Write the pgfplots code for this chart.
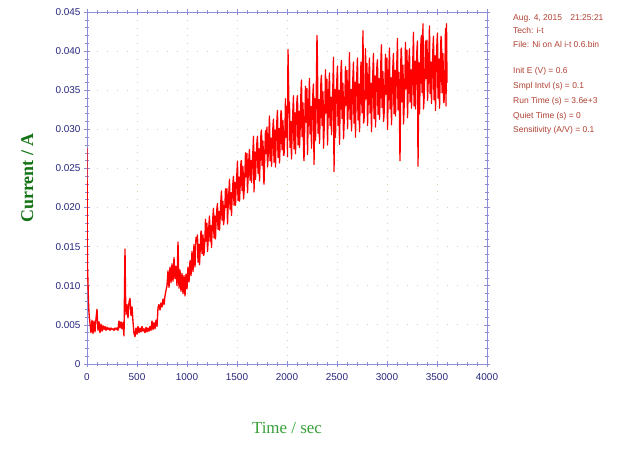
\documentclass[border=0pt]{standalone}
\usepackage{fontspec}
\setmainfont{Liberation Sans}
\newfontfamily\serifface{Liberation Serif}
\usepackage{pgfplots}
\usepackage{pgfplotstable}
\pgfplotsset{compat=1.18}

\definecolor{axisblue}{RGB}{140,140,215}
\definecolor{ticknavy}{RGB}{40,40,125}
\definecolor{gridkhaki}{RGB}{210,210,175}
\definecolor{ylabgreen}{RGB}{20,115,20}
\definecolor{xlabgreen}{RGB}{55,160,55}
\definecolor{infobrown}{RGB}{175,65,50}
\definecolor{tracered}{RGB}{255,0,0}

% i-t record: time (s), current (A)
\pgfplotstableread[row sep=\\]{
t i\\
0 27.5e-3\\ 2 16.5e-3\\ 5 12.5e-3\\ 10 10.3e-3\\ 15 8.0e-3\\ 20 6.5e-3\\ 30 5.2e-3\\ 40 4.0e-3\\
50 5.6e-3\\ 60 3.9e-3\\ 70 5.5e-3\\ 80 4.1e-3\\ 90 5.8e-3\\ 100 7.0e-3\\ 110 4.3e-3\\ 120 5.4e-3\\
130 4.0e-3\\ 140 5.1e-3\\ 150 4.2e-3\\ 160 4.9e-3\\ 170 4.4e-3\\ 180 4.8e-3\\ 190 4.3e-3\\ 200 4.7e-3\\
210 4.4e-3\\ 220 4.6e-3\\ 230 4.3e-3\\ 240 4.6e-3\\ 250 4.4e-3\\ 260 4.5e-3\\ 270 4.3e-3\\ 280 4.6e-3\\
290 4.4e-3\\ 300 4.6e-3\\ 310 4.3e-3\\ 320 5.5e-3\\ 330 4.6e-3\\ 340 5.4e-3\\ 350 4.5e-3\\ 360 5.3e-3\\
370 3.6e-3\\ 380 14.7e-3\\ 385 9.0e-3\\ 390 6.3e-3\\ 400 7.6e-3\\ 410 5.9e-3\\ 420 7.9e-3\\ 430 8.4e-3\\
440 6.2e-3\\ 450 7.3e-3\\ 460 5.4e-3\\ 470 3.9e-3\\ 480 3.5e-3\\ 490 4.6e-3\\
500 3.8e-3\\ 510 4.8e-3\\ 520 4.0e-3\\ 530 4.6e-3\\ 540 4.1e-3\\ 550 4.8e-3\\ 560 4.2e-3\\ 570 4.5e-3\\
580 4.0e-3\\ 590 4.7e-3\\ 600 4.1e-3\\ 610 4.6e-3\\ 620 4.2e-3\\ 630 4.8e-3\\ 640 4.3e-3\\ 650 5.5e-3\\
660 4.4e-3\\ 670 5.3e-3\\ 680 4.5e-3\\ 690 5.6e-3\\ 700 4.8e-3\\ 710 7.2e-3\\ 720 7.6e-3\\ 730 6.9e-3\\
740 7.8e-3\\ 750 7.3e-3\\ 760 8.3e-3\\ 770 7.6e-3\\ 780 8.7e-3\\ 790 9.4e-3\\
800 10.0e-3\\ 810 11.9e-3\\ 820 9.8e-3\\ 830 12.4e-3\\ 840 10.4e-3\\ 850 12.8e-3\\ 860 10.6e-3\\ 870 13.6e-3\\
880 10.9e-3\\ 890 12.5e-3\\ 900 10.0e-3\\ 910 15.6e-3\\ 920 9.7e-3\\ 930 12.0e-3\\ 940 9.3e-3\\ 950 11.6e-3\\
960 9.0e-3\\ 970 11.3e-3\\ 980 8.7e-3\\ 990 11.5e-3\\ 1000 9.6e-3\\ 1010 12.4e-3\\ 1020 10.5e-3\\ 1030 13.2e-3\\
1040 11.3e-3\\ 1050 14.4e-3\\ 1060 11.8e-3\\ 1070 15.3e-3\\ 1080 12.4e-3\\ 1090 16.2e-3\\
1100 15.8e-3\\ 1105 16.5e-3\\ 1110 13.0e-3\\ 1120 15.3e-3\\ 1125 12.7e-3\\ 1130 14.1e-3\\ 1140 17.0e-3\\ 1145 16.9e-3\\ 1150 14.1e-3\\ 1160 16.5e-3\\ 1165 13.9e-3\\ 1170 14.0e-3\\ 1180 16.2e-3\\ 1185 18.5e-3\\ 1190 15.7e-3\\
1200 18.0e-3\\ 1205 14.4e-3\\ 1210 15.5e-3\\ 1220 17.9e-3\\ 1225 18.9e-3\\ 1230 15.7e-3\\ 1240 17.7e-3\\ 1245 14.9e-3\\ 1250 16.8e-3\\ 1260 19.0e-3\\ 1265 19.9e-3\\ 1270 16.1e-3\\ 1280 18.9e-3\\ 1285 16.0e-3\\ 1290 18.0e-3\\
1300 20.0e-3\\ 1305 20.5e-3\\ 1310 17.2e-3\\ 1320 19.5e-3\\ 1325 17.1e-3\\ 1330 18.3e-3\\ 1340 21.2e-3\\ 1345 22.1e-3\\ 1350 18.4e-3\\ 1360 20.8e-3\\ 1365 17.8e-3\\ 1370 18.3e-3\\ 1380 20.5e-3\\ 1385 22.4e-3\\ 1390 20.0e-3\\
1400 22.4e-3\\ 1405 17.9e-3\\ 1410 19.8e-3\\ 1420 22.2e-3\\ 1425 23.6e-3\\ 1430 19.8e-3\\ 1440 21.9e-3\\ 1445 19.0e-3\\ 1450 21.0e-3\\ 1460 23.3e-3\\ 1465 24.0e-3\\ 1470 20.3e-3\\ 1480 23.2e-3\\ 1485 20.3e-3\\ 1490 22.2e-3\\
1500 24.6e-3\\ 1505 25.9e-3\\ 1510 20.9e-3\\ 1520 23.9e-3\\ 1525 20.8e-3\\ 1530 22.3e-3\\ 1540 25.9e-3\\ 1545 26.0e-3\\ 1550 22.2e-3\\ 1560 25.2e-3\\ 1565 21.1e-3\\ 1570 21.9e-3\\ 1580 24.6e-3\\ 1585 27.0e-3\\ 1590 23.9e-3\\
1600 26.9e-3\\ 1605 21.9e-3\\ 1610 23.6e-3\\ 1620 26.5e-3\\ 1625 27.4e-3\\ 1630 23.5e-3\\ 1640 26.0e-3\\ 1645 23.2e-3\\ 1650 24.8e-3\\ 1660 27.4e-3\\ 1665 29.1e-3\\ 1670 22.0e-3\\ 1680 27.1e-3\\ 1685 23.6e-3\\ 1690 25.8e-3\\
1700 28.5e-3\\ 1705 29.1e-3\\ 1710 24.4e-3\\ 1720 27.5e-3\\ 1725 23.4e-3\\ 1730 25.7e-3\\ 1740 29.5e-3\\ 1745 29.9e-3\\ 1750 25.4e-3\\ 1760 28.5e-3\\ 1765 24.2e-3\\ 1770 23.0e-3\\ 1780 27.8e-3\\ 1785 29.8e-3\\ 1790 26.9e-3\\
1800 30.3e-3\\ 1805 25.2e-3\\ 1810 26.2e-3\\ 1820 29.7e-3\\ 1825 31.7e-3\\ 1830 26.0e-3\\ 1840 28.9e-3\\ 1845 25.3e-3\\ 1850 27.3e-3\\ 1860 30.5e-3\\ 1865 31.3e-3\\ 1870 25.8e-3\\ 1880 29.9e-3\\ 1885 25.2e-3\\ 1890 28.3e-3\\
1900 31.4e-3\\ 1905 32.4e-3\\ 1910 26.4e-3\\ 1920 30.1e-3\\ 1925 25.7e-3\\ 1930 27.8e-3\\ 1940 32.4e-3\\ 1945 32.1e-3\\ 1950 27.4e-3\\ 1960 31.1e-3\\ 1965 26.7e-3\\ 1970 26.7e-3\\ 1980 30.1e-3\\ 1985 33.9e-3\\ 1990 29.0e-3\\
2000 32.9e-3\\ 2005 26.5e-3\\ 2010 40.2e-3\\ 2020 32.1e-3\\ 2025 33.5e-3\\ 2030 27.7e-3\\ 2040 31.0e-3\\ 2045 26.2e-3\\ 2050 29.2e-3\\ 2060 32.8e-3\\ 2065 34.3e-3\\ 2070 27.5e-3\\ 2080 32.1e-3\\ 2085 26.9e-3\\ 2090 30.3e-3\\
2100 33.8e-3\\ 2105 34.3e-3\\ 2110 28.0e-3\\ 2120 32.3e-3\\ 2125 27.7e-3\\ 2130 29.5e-3\\ 2140 34.9e-3\\ 2145 36.3e-3\\ 2150 29.1e-3\\ 2160 33.4e-3\\ 2165 27.7e-3\\ 2170 26.0e-3\\ 2180 32.2e-3\\ 2185 35.5e-3\\ 2190 30.9e-3\\
2200 35.2e-3\\ 2205 26.8e-3\\ 2210 30.0e-3\\ 2220 34.2e-3\\ 2225 36.5e-3\\ 2230 29.4e-3\\ 2240 32.9e-3\\ 2245 27.6e-3\\ 2250 30.9e-3\\ 2260 34.9e-3\\ 2265 35.8e-3\\ 2270 25.5e-3\\ 2280 33.9e-3\\ 2285 28.6e-3\\ 2290 31.8e-3\\
2300 42.0e-3\\ 2305 38.0e-3\\ 2310 29.5e-3\\ 2320 33.8e-3\\ 2325 28.2e-3\\ 2330 31.0e-3\\ 2340 36.3e-3\\ 2345 36.9e-3\\ 2350 30.5e-3\\ 2360 34.8e-3\\ 2365 27.6e-3\\ 2370 29.5e-3\\ 2380 33.5e-3\\ 2385 37.6e-3\\ 2390 32.1e-3\\
2400 36.4e-3\\ 2405 28.0e-3\\ 2410 31.1e-3\\ 2420 35.5e-3\\ 2425 37.2e-3\\ 2430 30.5e-3\\ 2440 34.1e-3\\ 2445 29.3e-3\\ 2450 32.1e-3\\ 2460 36.1e-3\\ 2465 39.2e-3\\ 2470 24.6e-3\\ 2480 35.1e-3\\ 2485 29.0e-3\\ 2490 33.0e-3\\
2500 36.8e-3\\ 2505 38.1e-3\\ 2510 30.5e-3\\ 2520 35.0e-3\\ 2525 28.1e-3\\ 2530 32.1e-3\\ 2540 37.7e-3\\ 2545 38.8e-3\\ 2550 31.4e-3\\ 2560 35.9e-3\\ 2565 28.8e-3\\ 2570 30.4e-3\\ 2580 34.5e-3\\ 2585 38.0e-3\\ 2590 33.1e-3\\
2600 37.5e-3\\ 2605 30.1e-3\\ 2610 32.0e-3\\ 2620 36.5e-3\\ 2625 39.8e-3\\ 2630 31.3e-3\\ 2640 35.1e-3\\ 2645 29.8e-3\\ 2650 32.9e-3\\ 2660 37.0e-3\\ 2665 38.6e-3\\ 2670 30.8e-3\\ 2680 36.0e-3\\ 2685 29.0e-3\\ 2690 33.9e-3\\
2700 37.6e-3\\ 2705 39.1e-3\\ 2710 31.2e-3\\ 2720 35.8e-3\\ 2725 29.7e-3\\ 2730 32.8e-3\\ 2740 38.6e-3\\ 2745 38.4e-3\\ 2750 32.1e-3\\ 2760 42.6e-3\\ 2765 30.8e-3\\ 2770 31.1e-3\\ 2780 35.3e-3\\ 2785 40.3e-3\\ 2790 33.9e-3\\
2800 38.4e-3\\ 2805 30.5e-3\\ 2810 32.7e-3\\ 2820 37.4e-3\\ 2825 39.1e-3\\ 2830 32.1e-3\\ 2840 35.9e-3\\ 2845 29.7e-3\\ 2850 33.7e-3\\ 2860 37.9e-3\\ 2865 39.7e-3\\ 2870 31.4e-3\\ 2880 36.8e-3\\ 2885 30.3e-3\\ 2890 34.5e-3\\
2900 38.3e-3\\ 2905 38.9e-3\\ 2910 31.9e-3\\ 2920 36.5e-3\\ 2925 31.3e-3\\ 2930 33.5e-3\\ 2940 39.2e-3\\ 2945 40.8e-3\\ 2950 32.8e-3\\ 2960 37.4e-3\\ 2965 31.0e-3\\ 2970 31.7e-3\\ 2980 36.0e-3\\ 2985 39.6e-3\\ 2990 34.5e-3\\
3000 39.1e-3\\ 3005 30.0e-3\\ 3010 33.3e-3\\ 3020 38.0e-3\\ 3025 40.4e-3\\ 3030 32.6e-3\\ 3040 36.6e-3\\ 3045 30.6e-3\\ 3050 34.2e-3\\ 3060 38.5e-3\\ 3065 39.7e-3\\ 3070 32.0e-3\\ 3080 37.5e-3\\ 3085 31.7e-3\\ 3090 35.2e-3\\
3100 39.1e-3\\ 3105 41.6e-3\\ 3110 32.5e-3\\ 3120 37.3e-3\\ 3125 31.4e-3\\ 3130 26.0e-3\\ 3140 40.1e-3\\ 3145 40.4e-3\\ 3150 33.5e-3\\ 3160 38.2e-3\\ 3165 30.7e-3\\ 3170 32.4e-3\\ 3180 36.8e-3\\ 3185 41.1e-3\\ 3190 35.2e-3\\
3200 40.1e-3\\ 3205 31.5e-3\\ 3210 34.2e-3\\ 3220 39.0e-3\\ 3225 40.3e-3\\ 3230 33.5e-3\\ 3240 37.6e-3\\ 3245 32.7e-3\\ 3250 35.3e-3\\ 3260 39.7e-3\\ 3265 42.4e-3\\ 3270 33.0e-3\\ 3280 38.7e-3\\ 3285 32.6e-3\\ 3290 36.3e-3\\
3300 40.4e-3\\ 3305 41.3e-3\\ 3310 25.3e-3\\ 3320 38.5e-3\\ 3325 32.0e-3\\ 3330 35.4e-3\\ 3340 41.4e-3\\ 3345 42.0e-3\\ 3350 34.7e-3\\ 3360 43.5e-3\\ 3365 32.6e-3\\ 3370 33.6e-3\\ 3380 38.1e-3\\ 3385 41.3e-3\\ 3390 36.5e-3\\
3400 41.4e-3\\ 3405 33.7e-3\\ 3410 35.4e-3\\ 3420 40.2e-3\\ 3425 43.2e-3\\ 3430 34.6e-3\\ 3440 38.6e-3\\ 3445 33.3e-3\\ 3450 36.2e-3\\ 3460 40.6e-3\\ 3465 41.9e-3\\ 3470 33.8e-3\\ 3480 39.4e-3\\ 3485 32.4e-3\\ 3490 37.0e-3\\
3500 41.2e-3\\ 3505 42.3e-3\\ 3510 34.0e-3\\ 3520 39.0e-3\\ 3525 32.7e-3\\ 3530 35.6e-3\\ 3540 41.9e-3\\ 3545 41.3e-3\\ 3550 34.7e-3\\ 3560 39.7e-3\\ 3565 33.6e-3\\ 3570 33.4e-3\\ 3580 37.9e-3\\ 3585 42.9e-3\\ 3590 33.0e-3\\
3595 43.5e-3\\ 3600 36.0e-3\\
}\itdata

\begin{document}
\begin{tikzpicture}
\useasboundingbox[fill=white] (0,0) rectangle (621bp,471bp);
\begin{axis}[
  at={(87bp,107bp)}, anchor=south west,
  scale only axis, width=400bp, height=352bp,
  xmin=0, xmax=4000, ymin=0, ymax=0.045,
  xtick={0,500,...,4000},
  ytick={0,0.005,0.01,0.015,0.02,0.025,0.03,0.035,0.04,0.045},
  yticklabels={0,0.005,0.010,0.015,0.020,0.025,0.030,0.035,0.040,0.045},
  scaled y ticks=false,
  minor x tick num=4, minor y tick num=4,
  axis line style={axisblue, line width=0.7bp},
  every major tick/.style={axisblue, line width=0.6bp},
  every minor tick/.style={axisblue, line width=0.5bp},
  major tick length=6bp, minor tick length=3.5bp,
  tick align=center,
  tick label style={font=\fontsize{10}{12}\selectfont, text=ticknavy},
  /pgf/number format/assume math mode=true,
  /pgf/number format/1000 sep={},
  xticklabel style={yshift=-3bp},
  xmajorgrids, ymajorgrids,
  x grid style={gridkhaki, line width=1bp, dash pattern=on 1bp off 6.8bp},
  y grid style={gridkhaki, line width=1bp, dash pattern=on 1bp off 9bp},
  xlabel={Time / sec},
  ylabel={Current / A},
  xlabel style={at={(axis description cs:0.5,-0.182)}, anchor=center,
    font=\serifface\fontsize{17}{20}\selectfont, text=xlabgreen},
  ylabel style={at={(axis description cs:-0.149,0.528)}, anchor=center,
    font=\serifface\bfseries\fontsize{18}{22}\selectfont, text=ylabgreen},
]
\addplot[draw=tracered, line width=1.35bp, line join=round, line cap=round] table[x=t, y=i] {\itdata};
\end{axis}
\begin{scope}[every node/.style={anchor=base west, inner sep=0pt,
    font=\fontsize{8.5}{10}\selectfont, text=infobrown}]
\node at (513bp,450.5bp) {Aug. 4, 2015\quad 21:25:21};
\node at (513bp,437.5bp) {Tech: i-t};
\node at (513bp,423.5bp) {File: Ni on Al i-t 0.6.bin};
\node at (513bp,397.5bp) {Init E (V) = 0.6};
\node at (513bp,382.5bp) {Smpl Intvl (s) = 0.1};
\node at (513bp,367.5bp) {Run Time (s) = 3.6e+3};
\node at (513bp,352.5bp) {Quiet Time (s) = 0};
\node at (513bp,338.5bp) {Sensitivity (A/V) = 0.1};
\end{scope}
\end{tikzpicture}
\end{document}
